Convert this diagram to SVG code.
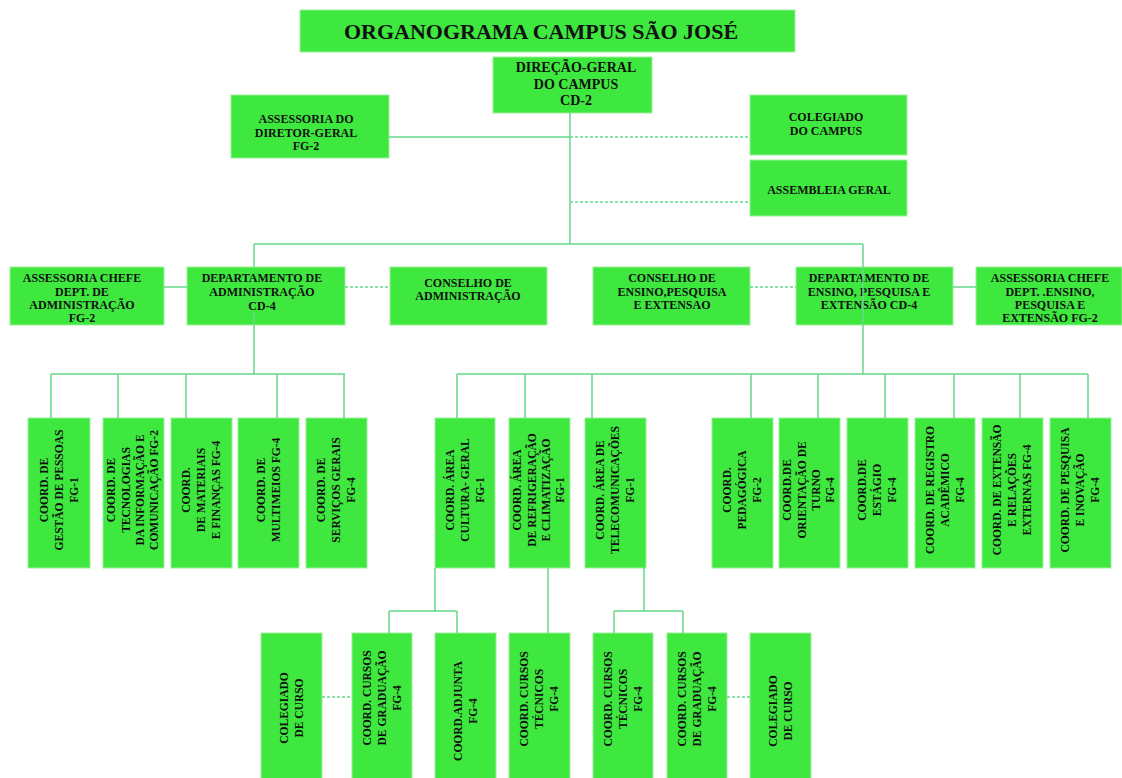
<svg xmlns="http://www.w3.org/2000/svg" width="1122" height="778" viewBox="0 0 1122 778">
<style>
.box{fill:#3ee83e;stroke:#9cee9c;stroke-width:1}
.t{font-family:"Liberation Serif","Times New Roman",serif;font-weight:bold;fill:#111;text-anchor:middle;font-size:12px}
.v{font-size:11.5px}
.c{stroke:#66d98a;stroke-width:1.5;fill:none}
.d{stroke-dasharray:3 2}
</style>
<rect width="1122" height="778" fill="#fff"/>
<g id="title"><rect class="box" x="300" y="10" width="495" height="42"/><text class="t" x="541" y="39" style="font-size:22px">ORGANOGRAMA CAMPUS SÃO JOSÉ</text></g>
<g id="direcao"><rect class="box" x="493" y="57" width="159" height="56"/><text class="t" style="font-size:14px"><tspan x="576" y="72">DIREÇÃO-GERAL</tspan><tspan x="576" y="89">DO CAMPUS</tspan><tspan x="576" y="105">CD-2</tspan></text></g>
<g id="assessoria-dg"><rect class="box" x="231" y="95" width="158" height="63"/><text class="t"><tspan x="306" y="123">ASSESSORIA DO</tspan><tspan x="306" y="137">DIRETOR-GERAL</tspan><tspan x="306" y="150">FG-2</tspan></text></g>
<g id="colegiado-campus"><rect class="box" x="750" y="95" width="157" height="60"/><text class="t"><tspan x="826" y="121">COLEGIADO</tspan><tspan x="826" y="135">DO CAMPUS</tspan></text></g>
<g id="assembleia"><rect class="box" x="750" y="160" width="157" height="56"/><text class="t" x="829" y="194">ASSEMBLEIA GERAL</text></g>
<g id="assessoria-adm"><rect class="box" x="10" y="267" width="154" height="58"/><text class="t"><tspan x="82" y="282">ASSESSORIA CHEFE</tspan><tspan x="82" y="296">DEPT. DE</tspan><tspan x="82" y="309">ADMINISTRAÇÃO</tspan><tspan x="82" y="322">FG-2</tspan></text></g>
<g id="dept-adm"><rect class="box" x="187" y="267" width="158" height="58"/><text class="t"><tspan x="262" y="282">DEPARTAMENTO DE</tspan><tspan x="262" y="296">ADMINISTRAÇÃO</tspan><tspan x="262" y="310">CD-4</tspan></text></g>
<g id="conselho-adm"><rect class="box" x="390" y="267" width="157" height="58"/><text class="t"><tspan x="468" y="287">CONSELHO DE</tspan><tspan x="468" y="300">ADMINISTRAÇÃO</tspan></text></g>
<g id="conselho-ensino"><rect class="box" x="593" y="267" width="157" height="58"/><text class="t"><tspan x="672" y="282">CONSELHO DE</tspan><tspan x="672" y="296">ENSINO,PESQUISA</tspan><tspan x="672" y="309">E EXTENSAO</tspan></text></g>
<g id="dept-ensino"><rect class="box" x="796" y="267" width="157" height="58"/><text class="t"><tspan x="869" y="282">DEPARTAMENTO DE</tspan><tspan x="869" y="296">ENSINO, PESQUISA E</tspan><tspan x="869" y="309">EXTENSÃO CD-4</tspan></text></g>
<g id="assessoria-ensino"><rect class="box" x="976" y="267" width="146" height="58"/><text class="t"><tspan x="1050" y="282">ASSESSORIA CHEFE</tspan><tspan x="1050" y="296">DEPT. .ENSINO,</tspan><tspan x="1050" y="309">PESQUISA E</tspan><tspan x="1050" y="322">EXTENSÃO FG-2</tspan></text></g>

<g id="coord-pessoas"><rect class="box" x="28" y="418" width="62" height="150"/><text class="t v" transform="translate(59,490) rotate(-90)"><tspan x="0" y="-11">COORD. DE</tspan><tspan x="0" y="4">GESTÃO DE PESSOAS</tspan><tspan x="0" y="19">FG-1</tspan></text></g>
<g id="coord-tic"><rect class="box" x="103" y="418" width="61" height="150"/><text class="t v" transform="translate(133,490) rotate(-90)"><tspan x="0" y="-18">COORD. DE</tspan><tspan x="0" y="-3">TECNOLOGIAS</tspan><tspan x="0" y="11">DA INFORMAÇÃO E</tspan><tspan x="0" y="25">COMUNICAÇÃO  FG-2</tspan></text></g>
<g id="coord-materiais"><rect class="box" x="171" y="418" width="61" height="150"/><text class="t v" transform="translate(201,490) rotate(-90)"><tspan x="0" y="-11">COORD.</tspan><tspan x="0" y="4">DE MATERIAIS</tspan><tspan x="0" y="19">E FINANÇAS  FG-4</tspan></text></g>
<g id="coord-multimeios"><rect class="box" x="238" y="418" width="61" height="150"/><text class="t v" transform="translate(268,490) rotate(-90)"><tspan x="0" y="-3">COORD. DE</tspan><tspan x="0" y="12">MULTIMEIOS  FG-4</tspan></text></g>
<g id="coord-servicos"><rect class="box" x="306" y="418" width="61" height="150"/><text class="t v" transform="translate(336,490) rotate(-90)"><tspan x="0" y="-11">COORD. DE</tspan><tspan x="0" y="4">SERVIÇOS GERAIS</tspan><tspan x="0" y="19">FG-4</tspan></text></g>

<g id="coord-cultura"><rect class="box" x="435" y="418" width="60" height="150"/><text class="t v" transform="translate(465,490) rotate(-90)"><tspan x="0" y="-11">COORD. ÁREA</tspan><tspan x="0" y="4">CULTURA- GERAL</tspan><tspan x="0" y="19">FG-1</tspan></text></g>
<g id="coord-refrigeracao"><rect class="box" x="509" y="418" width="61" height="150"/><text class="t v" transform="translate(539,490) rotate(-90)"><tspan x="0" y="-18">COORD. ÁREA</tspan><tspan x="0" y="-3">DE  REFRIGERAÇÃO</tspan><tspan x="0" y="11">E CLIMATIZAÇÃO</tspan><tspan x="0" y="25">FG-1</tspan></text></g>
<g id="coord-telecom"><rect class="box" x="585" y="418" width="61" height="150"/><text class="t v" transform="translate(615,490) rotate(-90)"><tspan x="0" y="-11">COORD. ÁREA DE</tspan><tspan x="0" y="4">TELECOMUNICAÇÕES</tspan><tspan x="0" y="19">FG-1</tspan></text></g>

<g id="coord-pedagogica"><rect class="box" x="712" y="418" width="61" height="150"/><text class="t v" transform="translate(742,490) rotate(-90)"><tspan x="0" y="-11">COORD.</tspan><tspan x="0" y="4">PEDAGÓGICA</tspan><tspan x="0" y="19">FG-2</tspan></text></g>
<g id="coord-orientacao"><rect class="box" x="779" y="418" width="61" height="150"/><text class="t v" transform="translate(809,490) rotate(-90)"><tspan x="0" y="-18">COORD.DE</tspan><tspan x="0" y="-3">ORIENTAÇÃO DE</tspan><tspan x="0" y="11">TURNO</tspan><tspan x="0" y="25">FG-4</tspan></text></g>
<g id="coord-estagio"><rect class="box" x="847" y="418" width="61" height="150"/><text class="t v" transform="translate(877,490) rotate(-90)"><tspan x="0" y="-11">COORD.DE</tspan><tspan x="0" y="4">ESTÁGIO</tspan><tspan x="0" y="19">FG-4</tspan></text></g>
<g id="coord-registro"><rect class="box" x="915" y="418" width="60" height="150"/><text class="t v" transform="translate(945,490) rotate(-90)"><tspan x="0" y="-11">COORD. DE REGISTRO</tspan><tspan x="0" y="4">ACADÊMICO</tspan><tspan x="0" y="19">FG-4</tspan></text></g>
<g id="coord-extensao"><rect class="box" x="982" y="418" width="61" height="150"/><text class="t v" transform="translate(1012,490) rotate(-90)"><tspan x="0" y="-11">COORD. DE  EXTENSÃO</tspan><tspan x="0" y="4">E RELAÇÕES</tspan><tspan x="0" y="19">EXTERNAS FG-4</tspan></text></g>
<g id="coord-pesquisa"><rect class="box" x="1050" y="418" width="61" height="150"/><text class="t v" transform="translate(1080,490) rotate(-90)"><tspan x="0" y="-11">COORD. DE  PESQUISA</tspan><tspan x="0" y="4">E INOVAÇÃO</tspan><tspan x="0" y="19">FG-4</tspan></text></g>

<g id="colegiado-curso-1"><rect class="box" x="261" y="633" width="61" height="160"/><text class="t v" transform="translate(291,708) rotate(-90)"><tspan x="0" y="-3">COLEGIADO</tspan><tspan x="0" y="12">DE CURSO</tspan></text></g>
<g id="coord-graduacao-1"><rect class="box" x="352" y="633" width="60" height="160"/><text class="t v" transform="translate(382,698) rotate(-90)"><tspan x="0" y="-11">COORD. CURSOS</tspan><tspan x="0" y="4">DE GRADUAÇÃO</tspan><tspan x="0" y="19">FG-4</tspan></text></g>
<g id="coord-adjunta"><rect class="box" x="435" y="633" width="61" height="160"/><text class="t v" transform="translate(465,711) rotate(-90)"><tspan x="0" y="-3">COORD.ADJUNTA</tspan><tspan x="0" y="12">FG-4</tspan></text></g>
<g id="coord-tecnicos-1"><rect class="box" x="509" y="633" width="61" height="160"/><text class="t v" transform="translate(539,699) rotate(-90)"><tspan x="0" y="-11">COORD. CURSOS</tspan><tspan x="0" y="4">TÉCNICOS</tspan><tspan x="0" y="19">FG-4</tspan></text></g>
<g id="coord-tecnicos-2"><rect class="box" x="593" y="633" width="60" height="160"/><text class="t v" transform="translate(623,699) rotate(-90)"><tspan x="0" y="-11">COORD.  CURSOS</tspan><tspan x="0" y="4">TÉCNICOS</tspan><tspan x="0" y="19">FG-4</tspan></text></g>
<g id="coord-graduacao-2"><rect class="box" x="667" y="633" width="60" height="160"/><text class="t v" transform="translate(697,699) rotate(-90)"><tspan x="0" y="-11">COORD. CURSOS</tspan><tspan x="0" y="4">DE GRADUAÇÃO</tspan><tspan x="0" y="19">FG-4</tspan></text></g>
<g id="colegiado-curso-2"><rect class="box" x="750" y="633" width="61" height="160"/><text class="t v" transform="translate(780,711) rotate(-90)"><tspan x="0" y="-3">COLEGIADO</tspan><tspan x="0" y="12">DE CURSO</tspan></text></g>

<g id="connectors">
<path class="c" d="M570 113V244M389 137H570M254 244H863M254 244V267M863 244V374M164 287H187M953 287H976M254 312V374M51 374H345M51 374V418M118 374V418M186 374V418M277 374V418M344 374V418M457 374H1088M457 374V418M525 374V418M592 374V418M751 374V418M818 374V418M885 374V418M954 374V418M1020 374V418M1088 374V418M435 568V611M389 611H457M389 611V633M457 611V633M548 568V633M644 568V611M614 611H683M614 611V633M683 611V633"/>
<path class="c d" d="M570 137H750M570 202H750M345 287H390M750 287H796M322 697H352M727 697H750"/>
</g>
</svg>
